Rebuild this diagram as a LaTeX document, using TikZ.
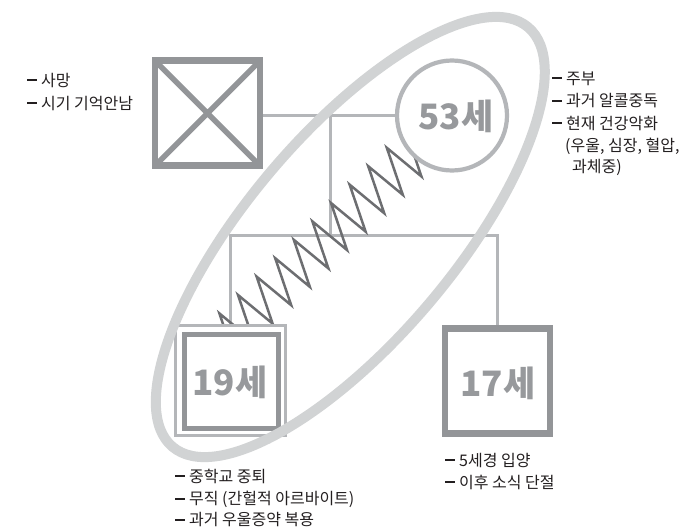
\documentclass[tikz,border=0pt]{standalone}
\usepackage{fontspec}
\setmainfont{Noto Sans CJK KR}
\usetikzlibrary{calc}
\pgfdeclarelayer{bg}
\pgfdeclarelayer{zz}
\pgfdeclarelayer{top}
\pgfsetlayers{bg,zz,main,top}
\definecolor{gdark}{HTML}{939598}
\definecolor{gage}{HTML}{97999C}
\definecolor{gconn}{HTML}{B4B6B9}
\definecolor{gell}{HTML}{D1D3D4}
\definecolor{gzig}{HTML}{6D6E71}
\definecolor{txt}{HTML}{231F20}
\newcommand{\dsh}{\rule[5pt]{10pt}{2pt}\hspace{4pt}}
\begin{document}
\begin{tikzpicture}[x=1pt,y=-1pt,
  lbl/.style={anchor=base west, inner sep=0pt, font=\fontsize{16}{20}\selectfont, text=txt},
  age/.style={inner sep=0pt, font=\fontsize{35}{40}\selectfont\bfseries, text=gage},
  sqbox/.style={draw=gdark, fill=white, line width=6.7pt, minimum size=105pt, inner sep=0pt, outer sep=0pt},
  conn/.style={draw=gconn, line width=3pt},
  zigline/.style={draw=gzig, line width=2.5pt, line join=miter, miter limit=10},
  ell/.style={draw=gell, line width=10pt}]
\useasboundingbox (0,0) rectangle (685,530);
\begin{pgfonlayer}{bg}
\fill[white] (0,0) rectangle (685,530);
\end{pgfonlayer}

% parents
\node[sqbox] (father) at (207.5,113.3) {};
\draw[draw=gdark, line width=5.5pt] (father.north west) -- (father.south east)
  (father.north east) -- (father.south west);
\node[circle, draw=gconn, fill=white, line width=4.2pt, minimum size=110pt, inner sep=0pt, outer sep=0pt] (mom) at (452,115.5) {};
\node[age] (a53) at (456,116.5) {53세};

% children
\node[draw=gconn, fill=white, line width=2.5pt, minimum size=110.3pt, inner sep=0pt, outer sep=0pt] (c1) at (230.5,380.5) {};
\node[draw=gdark, line width=5pt, minimum size=94pt, inner sep=0pt, outer sep=0pt] (c1in) at (231,381) {};
\node[age] (a19) at (230,382) {19세};
\node[sqbox] (c2) at (497.5,380.8) {};
\node[age] (a17) at (498,383) {17세};

% connectors
\coordinate (mid) at (330,115.5);
\coordinate (sib) at (330,235);
\begin{pgfonlayer}{bg}
\draw[conn] (father.east |- mom.west) -- (mom.west);
\draw[conn] (mid) -- (sib);
\draw[conn] (c1.north) -- (c1.north |- sib) -- (c2.north |- sib) -- (c2.north);
\end{pgfonlayer}

% conflict zigzag
\begin{pgfonlayer}{zz}
\draw[zigline] (235.4,360.4) \foreach \k in {0,...,10} {
  -- ({238+18.6*(\k-1)},{295-18.4*(\k-1)}) -- ({272.6+18.6*(\k-1)},{323.6-18.4*(\k-1)}) };
\end{pgfonlayer}

% enclosing ellipse
\begin{pgfonlayer}{top}
\draw[ell, shift={(350.3,237)}, rotate=49.7] (0,0) ellipse [x radius=275, y radius=103];
\end{pgfonlayer}

% labels
\node[lbl] (f1) at (27,86) {\dsh 사망};
\node[lbl] (f2) at (27,109) {\dsh 시기 기억안남};
\node[lbl] (m1) at (552,84) {\dsh 주부};
\node[lbl] (m2) at (552,106.5) {\dsh 과거 알콜중독};
\node[lbl] (m3) at (552,129) {\dsh 현재 건강악화};
\node[lbl] (m4) at (565,151) {(우울, 심장, 혈압,};
\node[lbl] (m5) at (572,172) {과체중)};
\node[lbl] (k1) at (175,482) {\dsh 중학교 중퇴};
\node[lbl] (k2) at (175,504.5) {\dsh 무직 (간헐적 아르바이트)};
\node[lbl] (k3) at (175,525.5) {\dsh 과거 우울증약 복용};
\node[lbl] (s1) at (445,466) {\dsh 5세경 입양};
\node[lbl] (s2) at (445,488) {\dsh 이후 소식 단절};
\end{tikzpicture}
\end{document}
